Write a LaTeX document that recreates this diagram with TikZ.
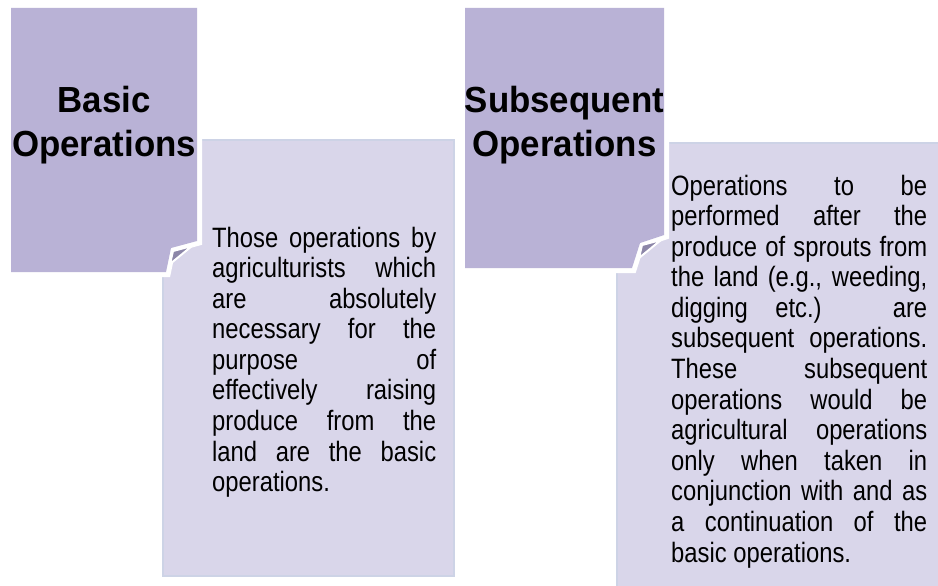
\documentclass[tikz,border=0pt]{standalone}
\usepackage{fontspec}
\setmainfont{Liberation Sans}
\newfontfamily\bodyfont[FakeStretch=0.85]{Liberation Sans}
\newfontfamily\titlefont[FakeStretch=0.96]{Liberation Sans}
\definecolor{darkpurple}{RGB}{185,178,214}
\definecolor{lightpurple}{RGB}{217,214,234}
\definecolor{edgeblue}{RGB}{205,211,230}
\definecolor{flapcol}{RGB}{140,134,168}
\newcommand\jl[1]{\hbox to\hsize{#1}}
\newcommand\lastl[1]{\hbox{#1}}
\hbadness=10000
\hfuzz=50pt
\tikzset{
  lightbox/.style={fill=lightpurple, draw=edgeblue, line width=1.5pt},
  darkhalo/.style={fill=white, draw=white, line width=10pt, line join=miter},
  darkbox/.style={fill=darkpurple, draw=none},
  flapstyle/.style={fill=flapcol, draw=white, line width=2pt, line join=round},
  bodytext/.style={anchor=base west, inner sep=0pt, font=\bodyfont\fontsize{28pt}{30.6pt}\selectfont},
  titletext/.style={anchor=base, inner sep=0pt, font=\titlefont\bfseries\fontsize{36.3pt}{44pt}\selectfont},
}
\begin{document}
\begin{tikzpicture}[x=1pt, y=-1pt]
\useasboundingbox (0,0) rectangle (938,586);
\clip (0,0) rectangle (938,586);
\fill[white] (0,0) rectangle (938,586);

% light text boxes
\path[lightbox] (163,140) rectangle (454,576);
\path[lightbox] (617,143) rectangle (970,620);

% left dark square with folded corner
\path[darkhalo] (11,8) -- (197,8) -- (197,241) -- (171,248) -- (166,272) -- (11,272) -- cycle;
\path[darkbox] (11,8) -- (197,8) -- (197,241) -- (171,248) -- (166,272) -- (11,272) -- cycle;
\path[flapstyle] (173,251) -- (192,246) -- (170,264) -- cycle;

% right dark square with folded corner
\path[darkhalo] (465,8) -- (664,8) -- (664,235) -- (640,243) -- (632,268) -- (465,268) -- cycle;
\path[darkbox] (465,8) -- (664,8) -- (664,235) -- (640,243) -- (632,268) -- (465,268) -- cycle;
\path[flapstyle] (642,245) -- (661,240) -- (639,258) -- cycle;

% titles
\node[titletext] (h1) at (104,113) {\vtop{\hbox to 0pt{\hss Basic\hss}\hbox to 0pt{\hss Operations\hss}}};
\node[titletext] (h2) at (564.5,113) {\vtop{\hbox to 0pt{\hss Subsequent\hss}\hbox to 0pt{\hss Operations\hss}}};

% body texts
\node[bodytext] (t1) at (212,247) {\vtop{\hsize=224pt
\jl{Those operations by}
\jl{agriculturists which}
\jl{are absolutely}
\jl{necessary for the}
\jl{purpose of}
\jl{effectively raising}
\jl{produce from the}
\jl{land are the basic}
\lastl{operations.}}};

\node[bodytext] (t2) at (671,195) {\vtop{\hsize=256pt
\jl{Operations to be}
\jl{performed after the}
\jl{produce of sprouts from}
\jl{the land (e.g., weeding,}
\jl{digging etc.) are}
\jl{subsequent operations.}
\jl{These subsequent}
\jl{operations would be}
\jl{agricultural operations}
\jl{only when taken in}
\jl{conjunction with and as}
\jl{a continuation of the}
\lastl{basic operations.}}};
\end{tikzpicture}
\end{document}
